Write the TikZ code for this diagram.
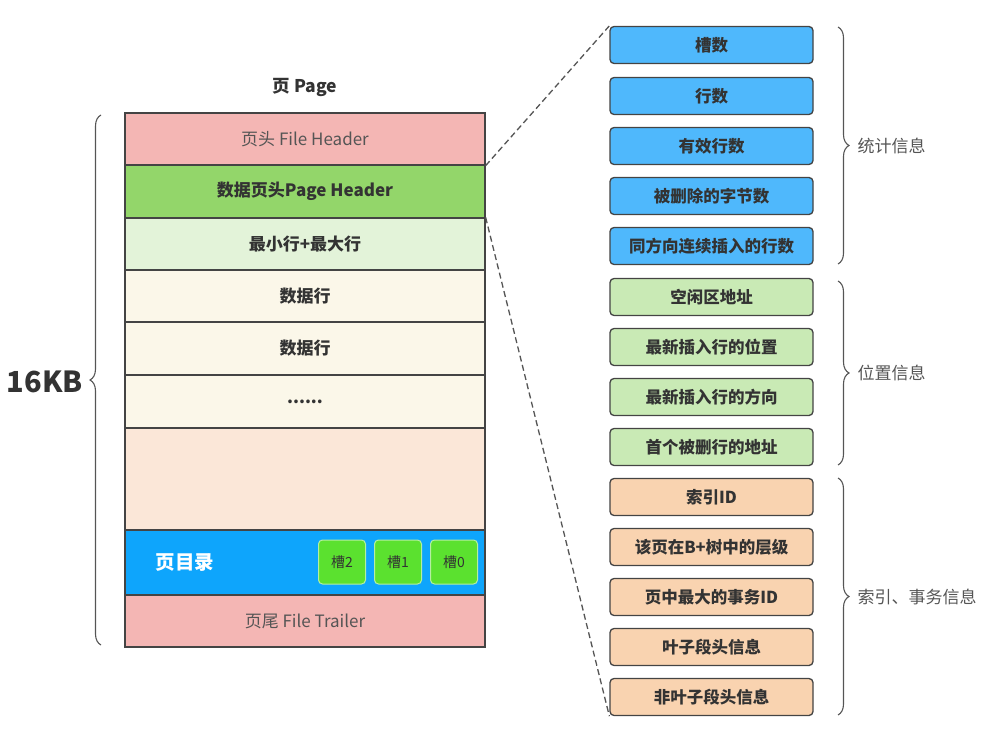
\documentclass[tikz,border=0pt]{standalone}
\usepackage{fontspec}
\setmainfont{Noto Sans CJK SC}
\usetikzlibrary{decorations.pathreplacing}
\definecolor{edge}{HTML}{444444}
\definecolor{txt}{HTML}{333333}
\definecolor{soft}{HTML}{555555}
\definecolor{fhc}{HTML}{F4B6B4}
\definecolor{phc}{HTML}{93D66A}
\definecolor{mmc}{HTML}{E3F3D9}
\definecolor{drc}{HTML}{FBF7E9}
\definecolor{emc}{HTML}{FBE7D8}
\definecolor{dirc}{HTML}{0EA5FC}
\definecolor{bluec}{HTML}{4FB8FC}
\definecolor{greenc}{HTML}{C9EAB5}
\definecolor{peachc}{HTML}{F9D3B0}
\definecolor{slotc}{HTML}{5BE12F}
\definecolor{slotb}{HTML}{B5EFA0}
\begin{document}
\begin{tikzpicture}[x=1pt,y=-1pt,
  rowbox/.style={draw=edge,line width=1.3pt,minimum width=360pt,inner sep=0pt,font=\fontsize{17}{20}\selectfont},
  rowbold/.style={rowbox,text=txt,font=\fontsize{17}{20}\selectfont\bfseries},
  info/.style={draw=edge,line width=1.3pt,rounded corners=4pt,minimum width=203pt,minimum height=37pt,inner sep=0pt,font=\fontsize{16.5}{19}\selectfont\bfseries,text=txt},
  slot/.style={draw=slotb,line width=1pt,fill=slotc,rounded corners=4pt,minimum width=47pt,minimum height=44pt,inner sep=0pt,font=\fontsize{14}{16}\selectfont,text=txt},
  bracelabel/.style={font=\fontsize{17}{20}\selectfont,text=soft,anchor=west},
  bracestyle/.style={draw=soft,line width=1.1pt,decorate,decoration={brace,amplitude=11pt}},
  link/.style={draw=soft,line width=1.3pt,dash pattern=on 6pt off 3.5pt}]
\useasboundingbox (0,0) rectangle (985,730);
\node[font=\fontsize{17.5}{20}\selectfont\bfseries,text=txt] (title) at (305,87) {页 Page};
% stack
\node[rowbox,fill=fhc,minimum height=52pt,text=soft] (fh) at (305,139) {页头 File Header};
\node[rowbold,fill=phc,minimum height=53pt] (ph) at (305,191.5) {数据页头Page Header};
\node[rowbold,fill=mmc,minimum height=52pt] (mm) at (305,244) {最小行+最大行};
\node[rowbold,fill=drc,minimum height=52pt] (d1) at (305,296) {数据行};
\node[rowbold,fill=drc,minimum height=53pt] (d2) at (305,348.5) {数据行};
\node[rowbold,fill=drc,minimum height=53pt] (dots) at (305,401.5) {......};
\node[rowbox,fill=emc,minimum height=102pt] (empty) at (305,479) {};
\node[rowbox,fill=dirc,minimum height=65pt] (dir) at (305,562.5) {};
\node[rowbox,fill=fhc,minimum height=52pt,text=soft] (ft) at (305,621) {页尾 File Trailer};
\node[font=\fontsize{19.5}{22}\selectfont\bfseries,text=white] (dirlabel) at (185,563) {页目录};
\node[slot] (s2) at (342,562) {槽2};
\node[slot] (s1) at (398,562) {槽1};
\node[slot] (s0) at (454,562) {槽0};
% left brace
\coordinate (lbb) at (101,645);
\coordinate (lbt) at (101,115);
\draw[bracestyle] (lbb) -- (lbt);
\node[font=\fontsize{29}{34}\selectfont\bfseries,text=txt,anchor=east,inner sep=1pt] (kb) at (84,382) {16KB};
% right boxes
\node[info,fill=bluec] (b1) at (711.5,45) {槽数};
\node[info,fill=bluec] (b2) at (711.5,96) {行数};
\node[info,fill=bluec] (b3) at (711.5,146) {有效行数};
\node[info,fill=bluec] (b4) at (711.5,196) {被删除的字节数};
\node[info,fill=bluec] (b5) at (711.5,246) {同方向连续插入的行数};
\node[info,fill=greenc] (b6) at (711.5,297) {空闲区地址};
\node[info,fill=greenc] (b7) at (711.5,347) {最新插入行的位置};
\node[info,fill=greenc] (b8) at (711.5,397) {最新插入行的方向};
\node[info,fill=greenc] (b9) at (711.5,447) {首个被删行的地址};
\node[info,fill=peachc] (b10) at (711.5,497) {索引ID};
\node[info,fill=peachc] (b11) at (711.5,547) {该页在B+树中的层级};
\node[info,fill=peachc] (b12) at (711.5,597) {页中最大的事务ID};
\node[info,fill=peachc] (b13) at (711.5,647) {叶子段头信息};
\node[info,fill=peachc] (b14) at (711.5,697) {非叶子段头信息};
% right braces
\coordinate (r1t) at (838,27);
\coordinate (r1b) at (838,264);
\coordinate (r2t) at (838,281);
\coordinate (r2b) at (838,465);
\coordinate (r3t) at (838,478);
\coordinate (r3b) at (838,715);
\draw[bracestyle] (r1t) -- (r1b);
\draw[bracestyle] (r2t) -- (r2b);
\draw[bracestyle] (r3t) -- (r3b);
\node[bracelabel] (l1) at (854,146) {统计信息};
\node[bracelabel] (l2) at (854,373) {位置信息};
\node[bracelabel] (l3) at (854,597) {索引、事务信息};
% dashed links
\draw[link] (fh.south east) -- (b1.north west);
\draw[link] (mm.north east) -- (b14.south west);
\end{tikzpicture}
\end{document}
